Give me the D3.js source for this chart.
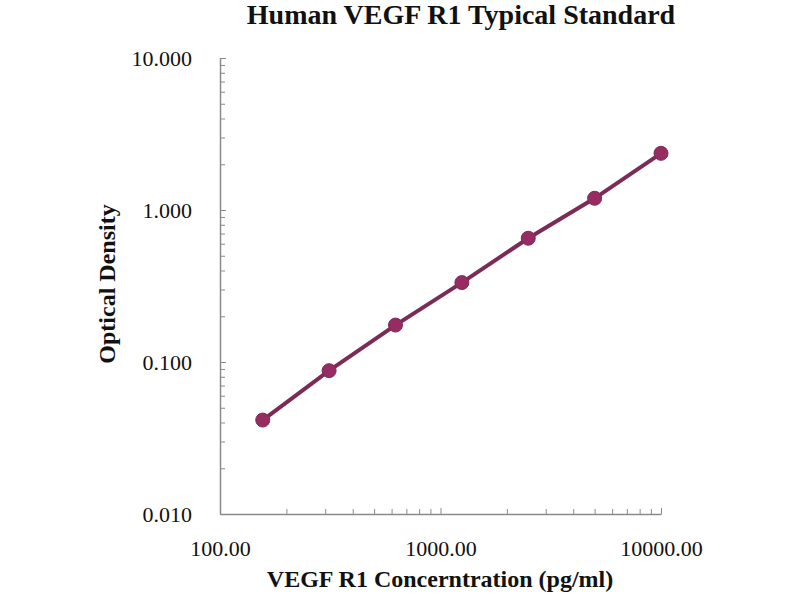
<!DOCTYPE html>
<html>
<head>
<meta charset="utf-8">
<script src="https://cdn.jsdelivr.net/npm/d3@7"></script>
<style>
  body { margin: 0; background: #fff; }
  text { font-family: "Liberation Serif", "Times New Roman", serif; fill: #111; }
  .axis path, .axis line { stroke: #8a8a8a; }
</style>
</head>
<body>
<svg id="chart"></svg>
<script>
// standard curve data
const concentrations = [156.25, 312.5, 625, 1250, 2500, 5000, 10000];
const opticalDensity = [0.0415, 0.0877, 0.175, 0.333, 0.652, 1.194, 2.36];
const xTickValues = [100, 1000, 10000];
const yTickValues = [0.01, 0.1, 1, 10];

const width = 800, height = 600;
const margin = {top: 58, right: 139, bottom: 86, left: 220};

const svg = d3.select('#chart')
    .attr('width', width)
    .attr('height', height);

const xScale = d3.scaleLog()
    .domain([100, 10000])
    .range([margin.left, width - margin.right]);

const yScale = d3.scaleLog()
    .domain([0.01, 10])
    .range([height - margin.bottom, margin.top]);

// minor ticks 2..9 in every decade
const minorX = d3.range(2, 10).flatMap(m => [m * 100, m * 1000]);
const minorY = d3.range(2, 10).flatMap(m => [m * 0.01, m * 0.1, m * 1]);

// x axis
const xAxisG = svg.append('g')
    .attr('class', 'axis')
    .attr('transform', `translate(0,${height - margin.bottom})`);

xAxisG.call(d3.axisBottom(xScale)
    .tickValues(xTickValues)
    .tickSizeInner(-6)
    .tickSizeOuter(0)
    .tickPadding(26)
    .tickFormat(d => d.toFixed(2)));

xAxisG.append('g').call(d3.axisBottom(xScale)
    .tickValues(minorX)
    .tickSizeInner(-5)
    .tickSizeOuter(0)
    .tickFormat(''))
  .select('.domain').remove();

// y axis
const yAxisG = svg.append('g')
    .attr('class', 'axis')
    .attr('transform', `translate(${margin.left},0)`);

yAxisG.call(d3.axisLeft(yScale)
    .tickValues(yTickValues)
    .tickSizeInner(-6)
    .tickSizeOuter(0)
    .tickPadding(28)
    .tickFormat(d => d.toFixed(3)));

yAxisG.append('g').call(d3.axisLeft(yScale)
    .tickValues(minorY)
    .tickSizeInner(-5)
    .tickSizeOuter(0)
    .tickFormat(''))
  .select('.domain').remove();

svg.selectAll('.axis text')
    .style('font-size', '22px')
    .style('font-family', '"Liberation Serif", serif')
    .attr('fill', '#111');

svg.selectAll('.axis .domain').attr('stroke', '#8a8a8a').attr('stroke-width', 1.5);

// line + markers
const points = concentrations.map((c, i) => ({x: c, y: opticalDensity[i]}));

const line = d3.line()
    .x(d => xScale(d.x))
    .y(d => yScale(d.y));

svg.append('path')
    .datum(points)
    .attr('d', line)
    .attr('fill', 'none')
    .attr('stroke', '#7c2b57')
    .attr('stroke-width', 4);

svg.selectAll('.dot')
    .data(points)
    .join('circle')
    .attr('class', 'dot')
    .attr('cx', d => xScale(d.x))
    .attr('cy', d => yScale(d.y))
    .attr('r', 7)
    .attr('fill', '#962c62')
    .attr('stroke', '#7c2b57')
    .attr('stroke-width', 1);

// titles
svg.append('text')
    .attr('x', 461)
    .attr('y', 24)
    .attr('text-anchor', 'middle')
    .style('font-size', '28px')
    .style('font-weight', 'bold')
    .text('Human VEGF R1 Typical Standard');

svg.append('text')
    .attr('x', 440)
    .attr('y', 587)
    .attr('text-anchor', 'middle')
    .style('font-size', '24px')
    .style('font-weight', 'bold')
    .text('VEGF R1 Concerntration (pg/ml)');

svg.append('text')
    .attr('transform', 'translate(115,284) rotate(-90)')
    .attr('text-anchor', 'middle')
    .style('font-size', '24px')
    .style('font-weight', 'bold')
    .text('Optical Density');
</script>
</body>
</html>
